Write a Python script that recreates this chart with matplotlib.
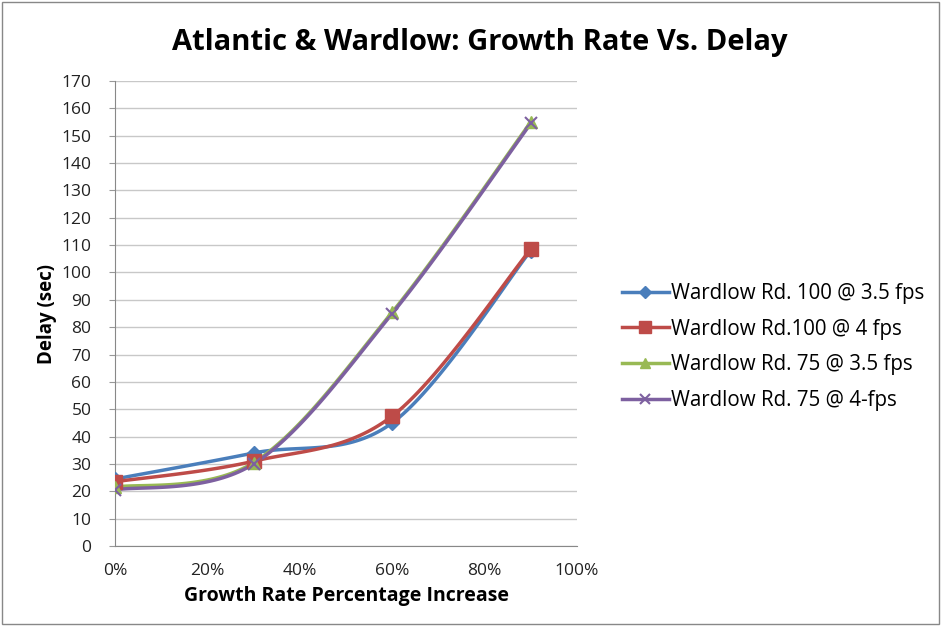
import numpy as np
import matplotlib
matplotlib.use("Agg")
import matplotlib.pyplot as plt
from matplotlib.lines import Line2D

plt.rcParams['font.family'] = ['Open Sans', 'DejaVu Sans']

x_growth = [0.0, 0.3, 0.6, 0.9]
blue_100_35 = [24.5, 34, 45, 108]
red_100_4 = [23.5, 31, 47.5, 108.5]
green_75_35 = [21.5, 30.5, 85.5, 155]
purple_75_4 = [20.5, 30, 85, 154.5]
labels = ["Wardlow Rd. 100 @ 3.5 fps", "Wardlow Rd.100 @ 4 fps",
          "Wardlow Rd. 75 @ 3.5 fps", "Wardlow Rd. 75 @ 4-fps"]
yticks = list(range(0, 171, 10))
xticks = [0, 0.2, 0.4, 0.6, 0.8, 1.0]


def smooth(xs, ys, n=40):
    P = np.column_stack([xs, ys]).astype(float)
    m = len(P)
    out = []
    for i in range(m - 1):
        p0 = P[i - 1] if i > 0 else P[i]
        p1 = P[i]
        p2 = P[i + 1]
        p3 = P[i + 2] if i + 2 < m else P[i + 1]
        c1 = p1 + (p2 - p0) / 6.0
        c2 = p2 - (p3 - p1) / 6.0
        t = np.linspace(0, 1, n)[:, None]
        seg = ((1 - t) ** 3) * p1 + 3 * ((1 - t) ** 2) * t * c1 + 3 * (1 - t) * t ** 2 * c2 + t ** 3 * p2
        out.append(seg if i == 0 else seg[1:])
    s = np.vstack(out)
    return s[:, 0], s[:, 1]


fig = plt.figure(figsize=(9.41, 6.26), dpi=100)
fig.patches.append(plt.Rectangle((0.002, 0.003), 0.996, 0.994, transform=fig.transFigure,
                                 fill=False, edgecolor='#888888', linewidth=1.0))
ax = fig.add_axes([115 / 941, 80 / 626, 462 / 941, 465 / 626])

series = [
    (blue_100_35, '#4A7EBB', 'D', 7),
    (red_100_4, '#BE4B48', 's', 10),
    (green_75_35, '#98B954', '^', 9),
    (purple_75_4, '#7D60A0', 'x', 9),
]
handles = []
for (ys, c, mk, ms), lab in zip(series, labels):
    sx, sy = smooth(x_growth, ys)
    ax.plot(sx, sy, color=c, linewidth=2.5, solid_capstyle='round', zorder=3)
    if mk == 'x':
        ax.plot(x_growth, ys, linestyle='none', marker=mk, markersize=ms,
                markeredgecolor=c, markeredgewidth=1.5, zorder=4)
    else:
        ax.plot(x_growth, ys, linestyle='none', marker=mk, markersize=ms,
                markerfacecolor=c, markeredgecolor=c, zorder=4)
    handles.append(Line2D([0], [0], color=c, linewidth=2.5, marker=mk,
                          markersize=ms * 0.85, markerfacecolor=c, markeredgecolor=c,
                          markeredgewidth=1.5 if mk == 'x' else 1.0))

ax.set_xlim(0, 1.0)
ax.set_ylim(0, 170)
ax.set_xticks(xticks)
ax.set_xticklabels([f"{int(round(v * 100))}%" for v in xticks])
ax.set_yticks(yticks)
ax.grid(axis='y', color='#C8C8C8', linewidth=1.0)
ax.set_axisbelow(True)
for s in ['top', 'right']:
    ax.spines[s].set_visible(False)
for s in ['left', 'bottom']:
    ax.spines[s].set_color('#888888')
ax.tick_params(axis='both', labelsize=12.5, colors='#999999', labelcolor='#222222')
ax.tick_params(axis='y', length=4, pad=13)
ax.tick_params(axis='x', length=0, pad=12)
ax.set_xlabel("Growth Rate Percentage Increase", fontsize=14, fontweight='bold', labelpad=5)
ax.set_ylabel("Delay (sec)", fontsize=13.5, fontweight='bold', labelpad=3)
fig.text(0.51, 0.932, "Atlantic & Wardlow: Growth Rate Vs. Delay", ha='center', va='center',
         fontsize=21, fontweight='bold')

fig.legend(handles, labels, loc='center left', bbox_to_anchor=(603 / 941, 1 - 347 / 626),
           frameon=False, fontsize=14.8, handlelength=2.3, labelspacing=0.72, handletextpad=0.1)

fig.savefig("out.png", dpi=100)
